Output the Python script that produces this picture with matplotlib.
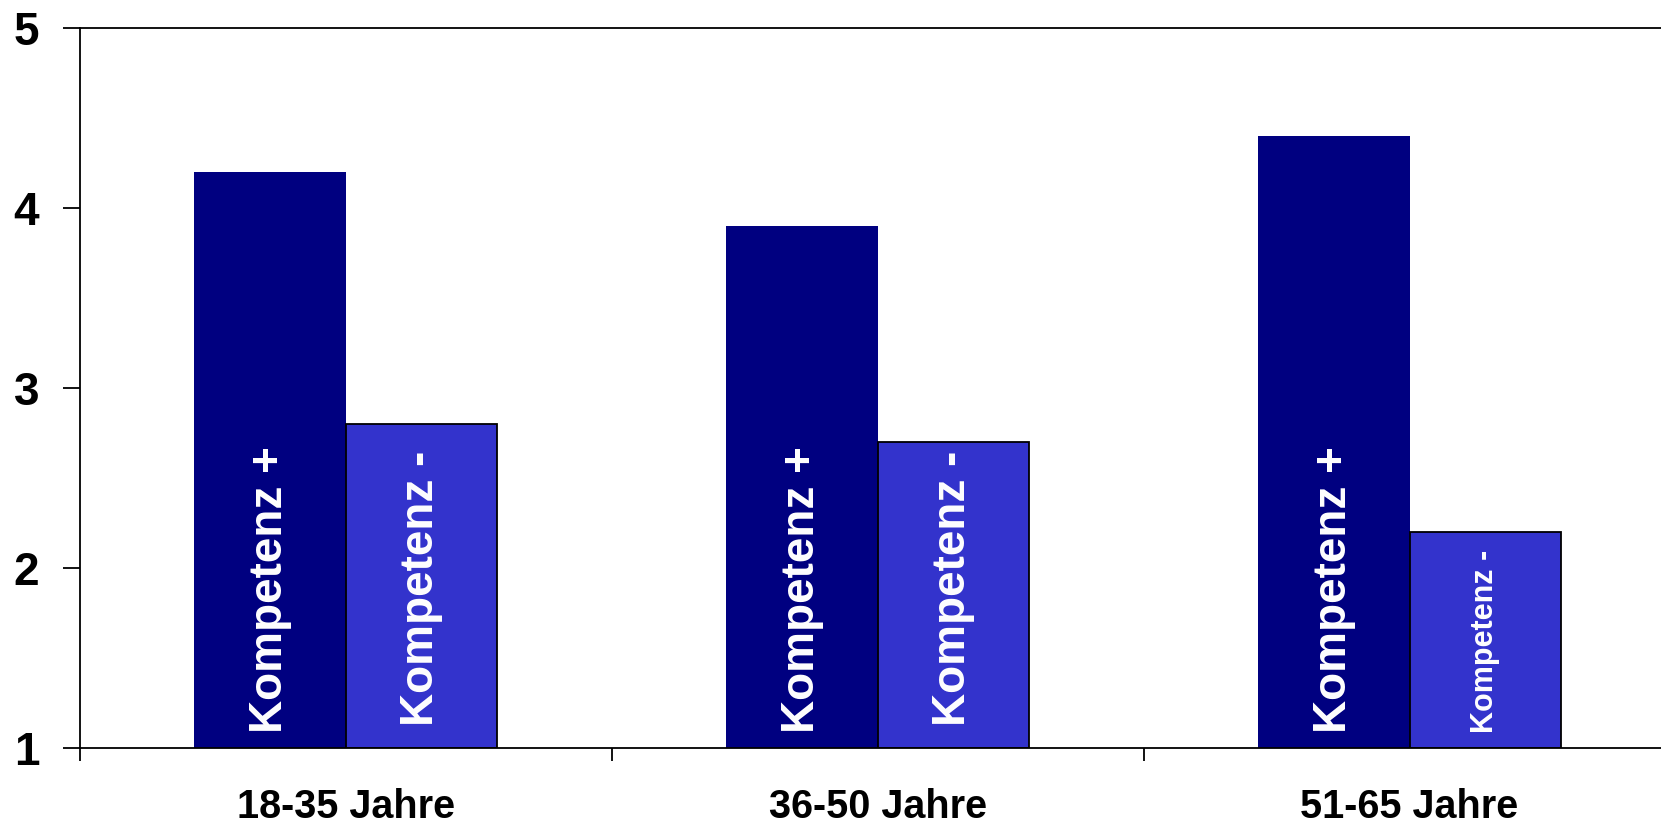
import matplotlib
import matplotlib.pyplot as plt
import numpy as np

matplotlib.use('Agg')

plt.rcParams['font.family'] = ['Liberation Sans', 'DejaVu Sans']
plt.rcParams['font.weight'] = 'bold'

# Altersgruppen und Mittelwerte
gruppen = ['18-35 Jahre', '36-50 Jahre', '51-65 Jahre']
kompetenz_plus = [4.2, 3.9, 4.4]
kompetenz_minus = [2.8, 2.7, 2.2]
label_plus = 'Kompetenz +'
label_minus = 'Kompetenz -'
y_ticks = [1, 2, 3, 4, 5]

dunkel = '#000080'
hell = '#3333CC'

fig = plt.figure(figsize=(16.61, 8.25), dpi=100)
# Achse reicht bewusst etwas über den rechten Rand hinaus
ax = fig.add_axes([0.0479, 0.0933, 0.9609, 0.8727])

x = np.arange(len(gruppen))
breite = 0.285

ax.bar(x - breite, np.array(kompetenz_plus) - 1, breite, bottom=1, align='edge',
       color=dunkel, edgecolor='none', zorder=2)
ax.bar(x, np.array(kompetenz_minus) - 1, breite, bottom=1, align='edge',
       color=hell, edgecolor='black', linewidth=1.3, zorder=2)

# Beschriftung in den Balken, senkrecht von unten nach oben
for xi, wert in zip(x, kompetenz_plus):
    ax.annotate(label_plus, xy=(xi - breite / 2, 1), xytext=(0, 11),
                textcoords='offset points', rotation=90, ha='center', va='bottom',
                color='white', fontsize=33, fontweight='bold', zorder=3)
for xi, wert in zip(x, kompetenz_minus):
    klein = wert < 2.5
    ax.annotate(label_minus, xy=(xi + breite / 2, 1), xytext=(0, 11 if klein else 16),
                textcoords='offset points', rotation=90, ha='center', va='bottom',
                color='white', fontsize=22 if klein else 33, fontweight='bold', zorder=3)

ax.set_xlim(-0.5, len(gruppen) - 0.5)
ax.set_ylim(1, 5)

ax.set_yticks(y_ticks)
ax.set_yticklabels([str(t) for t in y_ticks], fontsize=33, fontweight='bold')
ax.tick_params(axis='y', direction='out', length=12, width=1.3, pad=17)

ax.set_xticks(x)
ax.set_xticklabels(gruppen, fontsize=28.5, fontweight='bold')
ax.set_xticks(np.arange(len(gruppen) + 1) - 0.5, minor=True)
ax.tick_params(axis='x', which='major', length=0, pad=29)
ax.tick_params(axis='x', which='minor', direction='out', length=9, width=1.3)

for side in ['left', 'bottom', 'top', 'right']:
    ax.spines[side].set_linewidth(1.3)

fig.savefig('out.png', dpi=100)
plt.close(fig)
